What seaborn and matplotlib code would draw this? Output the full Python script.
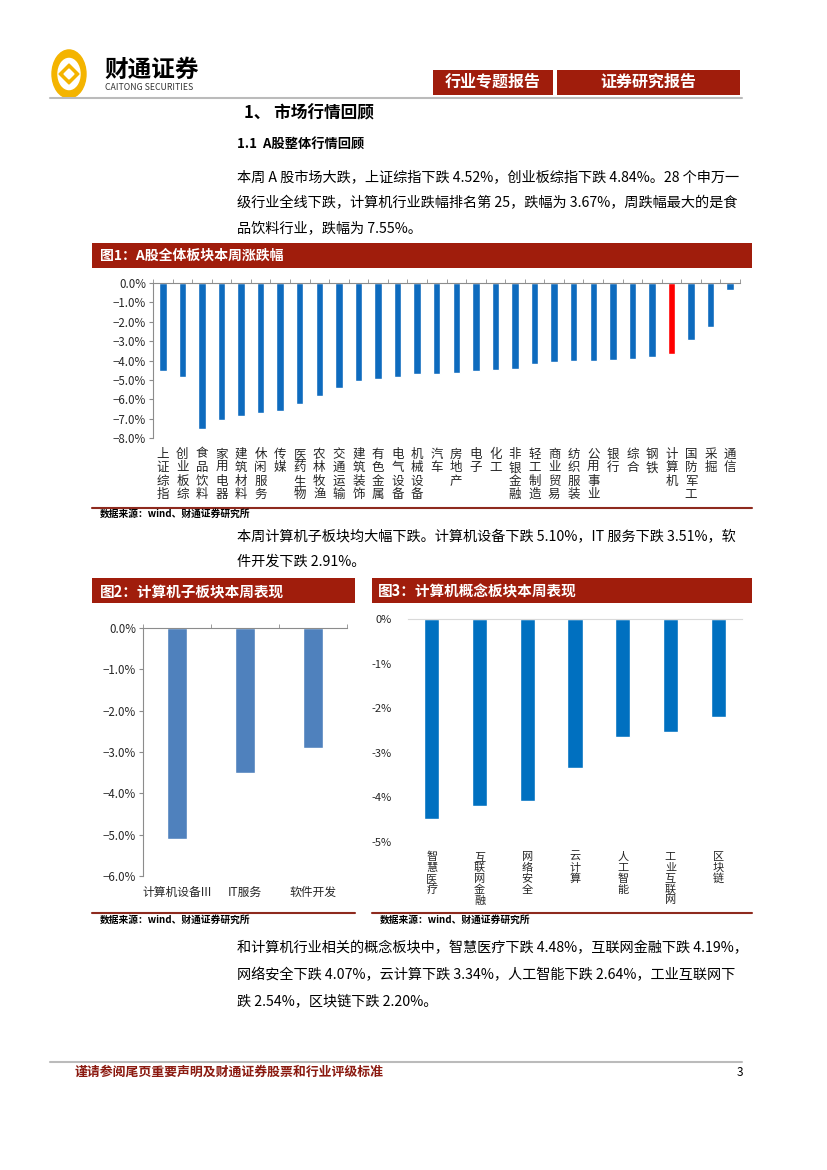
import numpy as np
import seaborn as sns
import matplotlib
matplotlib.use('Agg')
import matplotlib.pyplot as plt
from matplotlib.patches import Rectangle, Circle, Polygon
from matplotlib.lines import Line2D
from matplotlib.ticker import FuncFormatter

# 图1：A股全体板块本周涨跌幅（%）
industry_names = ['上证综指', '创业板综', '食品饮料', '家用电器', '建筑材料', '休闲服务', '传媒',
                  '医药生物', '农林牧渔', '交通运输', '建筑装饰', '有色金属', '电气设备', '机械设备',
                  '汽车', '房地产', '电子', '化工', '非银金融', '轻工制造', '商业贸易', '纺织服装',
                  '公用事业', '银行', '综合', '钢铁', '计算机', '国防军工', '采掘', '通信']
industry_changes = [-4.52, -4.84, -7.55, -7.06, -6.84, -6.69, -6.59,
                    -6.26, -5.84, -5.41, -5.04, -4.94, -4.83, -4.72,
                    -4.70, -4.63, -4.56, -4.51, -4.44, -4.19, -4.10, -4.04,
                    -4.03, -3.97, -3.91, -3.83, -3.67, -2.94, -2.28, -0.36]
highlight = '计算机'

# 图2：计算机子板块本周表现（%）
sub_names = ['计算机设备III', 'IT服务', '软件开发']
sub_changes = [-5.10, -3.51, -2.91]

# 图3：计算机概念板块本周表现（%）
concept_names = ['智慧医疗', '互联网金融', '网络安全', '云计算', '人工智能', '工业互联网', '区块链']
concept_changes = [-4.48, -4.19, -4.07, -3.34, -2.64, -2.54, -2.20]

sns.set_style('white')
plt.rcParams['font.family'] = ['Noto Sans CJK SC', 'DejaVu Sans']

W, H = 827, 1170
RED = '#A01D0C'
DARKRED = '#8E2A1E'
GRAY = '#8C8C8C'
BODY = 10.2

fig = plt.figure(figsize=(W / 100, H / 100), dpi=100)


def fx(x):
    return x / W


def fy(y):
    return 1 - y / H


def add_ax(x0, y0, x1, y1):
    return fig.add_axes([x0 / W, 1 - y1 / H, (x1 - x0) / W, (y1 - y0) / H])


def box(x0, y0, x1, y1, color):
    fig.add_artist(Rectangle((fx(x0), fy(y1)), (x1 - x0) / W, (y1 - y0) / H,
                             transform=fig.transFigure, facecolor=color, edgecolor='none'))


def hline(x0, x1, y, color, lw):
    fig.add_artist(Line2D([fx(x0), fx(x1)], [fy(y), fy(y)], transform=fig.transFigure,
                          color=color, lw=lw))


def text(x, y, s, size, weight='normal', color='black', ha='left'):
    fig.text(fx(x), fy(y), s, fontsize=size, fontweight=weight, color=color, ha=ha, va='center')


def vertical(name):
    return '\n'.join(name)


# ---- header ----
gold = '#F4B400'
fig.add_artist(Circle((fx(69), fy(74)), 17 / W, transform=fig.transFigure, color=gold))
fig.add_artist(Circle((fx(69), fy(74)), 11 / W, transform=fig.transFigure, color='white'))
fig.add_artist(Polygon([(fx(69), fy(64)), (fx(79), fy(74)), (fx(69), fy(84)), (fx(59), fy(74))],
                       closed=True, transform=fig.transFigure, color=gold))
fig.add_artist(Polygon([(fx(69), fy(69)), (fx(74), fy(74)), (fx(69), fy(79)), (fx(64), fy(74))],
                       closed=True, transform=fig.transFigure, color='white'))
text(104, 70, '财通证券', 17, 'bold')
text(105, 87, 'CAITONG SECURITIES', 6.3, color='#333333')

box(433, 70, 553, 95, RED)
box(557, 70, 740, 95, RED)
text(493, 82, '行业专题报告', 11.5, 'bold', 'white', 'center')
text(648, 82, '证券研究报告', 11.5, 'bold', 'white', 'center')
hline(50, 742, 98, '#BBBBBB', 1.5)

text(244, 113, '1、 市场行情回顾', 12, 'bold')
text(237, 145, '1.1  A股整体行情回顾', 9.5, 'bold')

para1 = ['本周 A 股市场大跌，上证综指下跌 4.52%，创业板综指下跌 4.84%。28 个申万一',
         '级行业全线下跌，计算机行业跌幅排名第 25，跌幅为 3.67%，周跌幅最大的是食',
         '品饮料行业，跌幅为 7.55%。']
for i, line in enumerate(para1):
    text(237, 178 + 25 * i, line, BODY)

# ---- figure 1 ----
box(92, 243, 752, 268, RED)
text(100, 256, '图1：A股全体板块本周涨跌幅', 10, 'bold', 'white')

ax1 = add_ax(153, 283, 740, 438)
colors1 = ['#FF0000' if n == highlight else '#0E6BBE' for n in industry_names]
sns.barplot(x=industry_names, y=industry_changes, hue=industry_names, palette=colors1,
            width=0.38, legend=False, ax=ax1, saturation=1)
n1 = len(industry_names)
ax1.set_xlim(-0.5, n1 - 0.5)
ax1.set_ylim(-8, 0)
ax1.set_yticks(np.arange(-8, 0.5, 1))
ax1.yaxis.set_major_formatter(FuncFormatter(lambda v, p: f'{v:.1f}%'.replace('-', '−')))
ax1.set_xticks(range(n1))
ax1.set_xticklabels([vertical(n) for n in industry_names], fontsize=9)
ax1.set_xticks(np.arange(n1 + 1) - 0.5, minor=True)

# ---- paragraph 2 ----
hline(92, 752, 508, DARKRED, 1.5)
text(100, 514, '数据来源：wind、财通证券研究所', 7, 'bold')
para2 = ['本周计算机子板块均大幅下跌。计算机设备下跌 5.10%，IT 服务下跌 3.51%，软',
         '件开发下跌 2.91%。']
for i, line in enumerate(para2):
    text(237, 537 + 25 * i, line, BODY)

# ---- figure 2 ----
box(92, 578, 355, 603, RED)
text(100, 591, '图2：计算机子板块本周表现', 10.5, 'bold', 'white')
ax2 = add_ax(143, 628, 347, 876)
sns.barplot(x=sub_names, y=sub_changes, color='#4F81BD', width=0.3, ax=ax2, saturation=1)
ax2.set_xlim(-0.5, 2.5)
ax2.set_ylim(-6, 0)
ax2.set_yticks(np.arange(-6, 0.5, 1))
ax2.yaxis.set_major_formatter(FuncFormatter(lambda v, p: f'{v:.1f}%'.replace('-', '−')))
ax2.set_xticks(range(3))
ax2.set_xticklabels(sub_names, fontsize=8.5)
ax2.set_xticks(np.arange(4) - 0.5, minor=True)
hline(92, 355, 913, DARKRED, 1.5)
text(100, 920, '数据来源：wind、财通证券研究所', 7, 'bold')

for ax in (ax1, ax2):
    ax.set_xlabel('')
    ax.set_ylabel('')
    for side in ('right', 'bottom'):
        ax.spines[side].set_visible(False)
    for side in ('left', 'top'):
        ax.spines[side].set_color(GRAY)
        ax.spines[side].set_linewidth(0.8)
    ax.tick_params(axis='y', which='major', left=True, direction='out', length=3,
                   color=GRAY, labelsize=8.3, pad=2)
    ax.tick_params(axis='x', which='major', bottom=False, top=False, length=0, pad=7)
    ax.tick_params(axis='x', which='minor', top=True, bottom=False, direction='out',
                   length=3, color=GRAY)

# ---- figure 3 ----
box(372, 578, 752, 603, RED)
text(378, 591, '图3：计算机概念板块本周表现', 10.5, 'bold', 'white')
ax3 = add_ax(408, 619, 742, 842)
sns.barplot(x=concept_names, y=concept_changes, color='#0070C0', width=0.32, ax=ax3, saturation=1)
ax3.set_xlim(-0.5, len(concept_names) - 0.5)
ax3.set_ylim(-5, 0)
ax3.set_yticks(np.arange(-5, 0.5, 1))
ax3.yaxis.set_major_formatter(FuncFormatter(lambda v, p: f'{v:.0f}%'))
ax3.set_xticks(range(len(concept_names)))
ax3.set_xticklabels([vertical(n) for n in concept_names], fontsize=8)
ax3.set_xlabel('')
ax3.set_ylabel('')
for side in ('right', 'bottom', 'left'):
    ax3.spines[side].set_visible(False)
ax3.spines['top'].set_color('#D9D9D9')
ax3.tick_params(axis='y', left=False, labelsize=8, pad=8)
ax3.tick_params(axis='x', bottom=False, length=0, pad=7)
hline(372, 752, 913, DARKRED, 1.5)
text(380, 920, '数据来源：wind、财通证券研究所', 7, 'bold')

for t in ax1.get_xticklabels():
    t.set_linespacing(1.05)
for t in ax3.get_xticklabels():
    t.set_linespacing(1.1)

# ---- paragraph 3 ----
para3 = ['和计算机行业相关的概念板块中，智慧医疗下跌 4.48%，互联网金融下跌 4.19%，',
         '网络安全下跌 4.07%，云计算下跌 3.34%，人工智能下跌 2.64%，工业互联网下',
         '跌 2.54%，区块链下跌 2.20%。']
for i, line in enumerate(para3):
    text(237, 948 + 27 * i, line, BODY)

# ---- footer ----
hline(50, 742, 1062, '#BBBBBB', 1.5)
text(75, 1072, '谨请参阅尾页重要声明及财通证券股票和行业评级标准', 9.3, 'bold', '#8B1A10')
text(737, 1072, '3', 8.5)

fig.savefig('out.png', dpi=100)
